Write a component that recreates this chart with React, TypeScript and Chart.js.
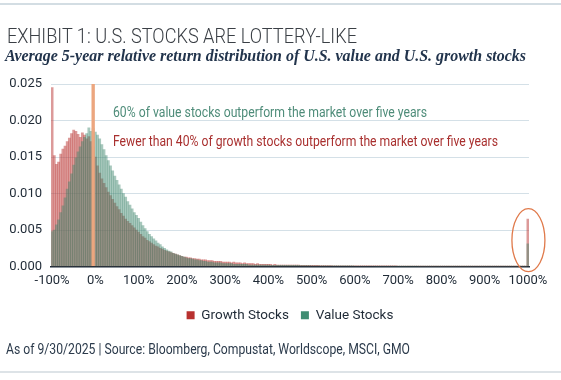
import React, { useEffect, useLayoutEffect, useRef } from "react";
import { Chart, registerables } from "chart.js";

Chart.register(...registerables);

// ---------- text ----------
const TITLE = "EXHIBIT 1: U.S. STOCKS ARE LOTTERY-LIKE";
const SUBTITLE = "Average 5-year relative return distribution of U.S. value and U.S. growth stocks";
const FOOTER = "As of 9/30/2025 | Source: Bloomberg, Compustat, Worldscope, MSCI, GMO";

// ---------- categories (5% return bins from -100% to 1000%) ----------
const BIN_START = -100;
const BIN_STEP = 5;
const BIN_COUNT = 221;
const categories: string[] = Array.from({ length: BIN_COUNT }, (_, i) => `${BIN_START + i * BIN_STEP}%`);
const tickLabels = ["-100%", "0%", "100%", "200%", "300%", "400%", "500%", "600%", "700%", "800%", "900%", "1000%"];
const yMin = 0;
const yMax = 0.025;
const yStep = 0.005;

// ---------- series ----------
const growthStocks = [
  0.0245, 0.0152, 0.0140, 0.0143, 0.0154, 0.0161, 0.0165, 0.0171, 0.0176, 0.0182,
  0.0187, 0.0185, 0.0181, 0.0177, 0.0183, 0.0180, 0.0175, 0.0178, 0.0171, 0.0164,
  0.0150, 0.0138, 0.0128, 0.0120, 0.0114, 0.0108, 0.0102, 0.0097, 0.0092, 0.0087,
  0.0082, 0.0078, 0.0073, 0.0069, 0.0065, 0.0062, 0.0059, 0.0056, 0.0053, 0.0050,
  0.0047, 0.0044, 0.0041, 0.0039, 0.0036, 0.0034, 0.0032, 0.0030, 0.0028, 0.0027,
  0.0025, 0.0024, 0.0022, 0.0021, 0.0020, 0.0019, 0.0018, 0.0017, 0.0016, 0.0015,
  0.0014, 0.0013, 0.0013, 0.0012, 0.0012, 0.0011, 0.0011, 0.0010, 0.0010, 0.0009,
  0.0009, 0.0009, 0.0008, 0.0008, 0.0008, 0.0007, 0.0007, 0.0007, 0.0007, 0.0006,
  0.0006, 0.0006, 0.0006, 0.0005, 0.0006, 0.0005, 0.0005, 0.0005, 0.0004, 0.0005,
  0.0004, 0.0004, 0.0004, 0.0004, 0.0003, 0.0004, 0.0003, 0.0003, 0.0003, 0.0003,
  0.0003, 0.0003, 0.0002, 0.0003, 0.0002, 0.0002, 0.0002, 0.0002, 0.0002, 0.0002,
  0.0002, 0.0002, 0.0002, 0.0002, 0.0002, 0.00015, 0.00015, 0.00015, 0.00015, 0.00015,
  0.00015, 0.00015, 0.00015, 0.00015, 0.00012, 0.00012, 0.00012, 0.00012, 0.00012, 0.00012,
  0.0001, 0.0001, 0.0001, 0.0001, 0.0001, 0.0001, 0.0001, 0.0001, 0.0001, 0.0001,
  0.0001, 0.0001, 0.0001, 0.0001, 0.0001, 0.00008, 0.00008, 0.00008, 0.00008, 0.00008,
  0.00008, 0.00008, 0.00008, 0.00008, 0.00008, 0.00008, 0.00008, 0.00008, 0.00008, 0.00008,
  0.00007, 0.00007, 0.00007, 0.00007, 0.00007, 0.00007, 0.00007, 0.00007, 0.00007, 0.00007,
  0.00006, 0.00006, 0.00006, 0.00006, 0.00006, 0.00006, 0.00006, 0.00006, 0.00006, 0.00006,
  0.00005, 0.00005, 0.00005, 0.00005, 0.00005, 0.00005, 0.00005, 0.00005, 0.00005, 0.00005,
  0.00005, 0.00005, 0.00005, 0.00005, 0.00005, 0.00005, 0.00005, 0.00005, 0.00005, 0.00005,
  0.00004, 0.00004, 0.00004, 0.00004, 0.00004, 0.00004, 0.00004, 0.00004, 0.00004, 0.00004,
  0.00004, 0.00004, 0.00004, 0.00004, 0.00004, 0.00004, 0.00004, 0.00004, 0.00004, 0.00004,
  0.0065,
];

const valueStocks = [
  0.0048, 0.0050, 0.0057, 0.0064, 0.0074, 0.0083, 0.0094, 0.0106, 0.0116, 0.0127,
  0.0139, 0.0149, 0.0157, 0.0164, 0.0171, 0.0177, 0.0182, 0.0190, 0.0185, 0.0189,
  0.0184, 0.0180, 0.0175, 0.0167, 0.0160, 0.0152, 0.0145, 0.0138, 0.0131, 0.0124,
  0.0118, 0.0112, 0.0106, 0.0100, 0.0095, 0.0089, 0.0084, 0.0079, 0.0074, 0.0070,
  0.0066, 0.0061, 0.0056, 0.0052, 0.0048, 0.0044, 0.0041, 0.0038, 0.0035, 0.0032,
  0.0030, 0.0027, 0.0025, 0.0023, 0.0021, 0.0020, 0.0018, 0.0017, 0.0016, 0.0015,
  0.0014, 0.0013, 0.0012, 0.0011, 0.0011, 0.0010, 0.0009, 0.0009, 0.0008, 0.0008,
  0.0007, 0.0007, 0.0006, 0.0006, 0.0006, 0.0005, 0.0005, 0.0005, 0.0005, 0.0004,
  0.0004, 0.0004, 0.0004, 0.0004, 0.0003, 0.0003, 0.0003, 0.0003, 0.0003, 0.0003,
  0.0003, 0.0002, 0.0002, 0.0002, 0.0002, 0.0002, 0.0002, 0.0002, 0.0002, 0.0002,
  0.0002, 0.00015, 0.00015, 0.00015, 0.00015, 0.00015, 0.00015, 0.00015, 0.00015, 0.00015,
  0.00015, 0.00015, 0.00015, 0.00015, 0.00015, 0.00012, 0.00012, 0.00012, 0.00012, 0.00012,
  0.0001, 0.0001, 0.0001, 0.0001, 0.0001, 0.0001, 0.0001, 0.0001, 0.0001, 0.0001,
  0.00008, 0.00008, 0.00008, 0.00008, 0.00008, 0.00008, 0.00008, 0.00008, 0.00008, 0.00008,
  0.00007, 0.00007, 0.00007, 0.00007, 0.00007, 0.00007, 0.00007, 0.00007, 0.00007, 0.00007,
  0.00006, 0.00006, 0.00006, 0.00006, 0.00006, 0.00006, 0.00006, 0.00006, 0.00006, 0.00006,
  0.00005, 0.00005, 0.00005, 0.00005, 0.00005, 0.00005, 0.00005, 0.00005, 0.00005, 0.00005,
  0.00004, 0.00004, 0.00004, 0.00004, 0.00004, 0.00004, 0.00004, 0.00004, 0.00004, 0.00004,
  0.00004, 0.00004, 0.00004, 0.00004, 0.00004, 0.00004, 0.00004, 0.00004, 0.00004, 0.00004,
  0.00003, 0.00003, 0.00003, 0.00003, 0.00003, 0.00003, 0.00003, 0.00003, 0.00003, 0.00003,
  0.00003, 0.00003, 0.00003, 0.00003, 0.00003, 0.00003, 0.00003, 0.00003, 0.00003, 0.00003,
  0.00003, 0.00003, 0.00003, 0.00003, 0.00003, 0.00003, 0.00003, 0.00003, 0.00003, 0.00003,
  0.0031,
];

// highlighted "market return" bar
const zeroMarkerCategory = "-5%";
const zeroMarkerValue = 0.025;

const seriesNames = ["Growth Stocks", "Value Stocks"];
const notes = [
  "60% of value stocks outperform the market over five years",
  "Fewer than 40% of growth stocks outperform the market over five years",
];

// ---------- styles ----------
const COLORS = {
  growthFill: "rgba(188, 62, 60, 0.52)",
  valueFill: "rgba(62, 132, 108, 0.45)",
  growthSolid: "#b8312f",
  valueSolid: "#3f8d72",
  marker: "#eca67f",
  grid: "#d4e0e7",
  axis: "#1d2b39",
  tick: "#1f2a36",
  noteValue: "#4e8c79",
  noteGrowth: "#a9302f",
  ellipse: "#e07a4b",
};
const NOTE_STYLE = [
  { color: COLORS.noteValue, dx: 62, yValue: 0.0205, width: 314 },
  { color: COLORS.noteGrowth, dx: 62, yValue: 0.0165, width: 385 },
];

function FitText({ text, width, style }: { text: string; width: number; style: React.CSSProperties }) {
  const ref = useRef<HTMLSpanElement>(null);
  useLayoutEffect(() => {
    const el = ref.current;
    if (!el) return;
    const apply = () => {
      el.style.transform = "none";
      const w = el.getBoundingClientRect().width;
      if (w > 0) el.style.transform = `scaleX(${width / w})`;
    };
    apply();
    if ((document as any).fonts?.ready) (document as any).fonts.ready.then(apply);
  }, [text, width]);
  return (
    <span
      ref={ref}
      style={{ position: "absolute", whiteSpace: "nowrap", transformOrigin: "0 0", display: "inline-block", ...style }}
    >
      {text}
    </span>
  );
}

const notesPlugin = {
  id: "notesPlugin",
  afterDraw(chart: any) {
    const { ctx, chartArea, scales } = chart;
    const xs = scales.x;
    const ys = scales.y;
    ctx.save();
    ctx.font = "400 14px Roboto";
    ctx.textBaseline = "alphabetic";
    ctx.textAlign = "left";
    notes.forEach((text, i) => {
      const s = NOTE_STYLE[i];
      const w = ctx.measureText(text).width;
      ctx.save();
      ctx.translate(chartArea.left + s.dx, ys.getPixelForValue(s.yValue));
      ctx.scale(s.width / w, 1);
      ctx.fillStyle = s.color;
      ctx.fillText(text, 0, 0);
      ctx.restore();
    });
    // ellipse around the >1000% bucket
    const cx = xs.getPixelForValue(categories.length - 1) + 0.5;
    const cy = ys.getPixelForValue(0.0036);
    ctx.beginPath();
    ctx.ellipse(cx, cy, 16.5, 31.5, 0, 0, Math.PI * 2);
    ctx.strokeStyle = COLORS.ellipse;
    ctx.lineWidth = 1.3;
    ctx.stroke();
    ctx.restore();
  },
};

function ChartCanvas() {
  const canvasRef = useRef<HTMLCanvasElement>(null);
  useEffect(() => {
    const canvas = canvasRef.current;
    if (!canvas) return;
    const markerData = categories.map((c) => (c === zeroMarkerCategory ? zeroMarkerValue : null));
    const chart = new Chart(canvas, {
      type: "bar",
      data: {
        labels: categories,
        datasets: [
          {
            label: "Market",
            data: markerData,
            backgroundColor: COLORS.marker,
            order: 0,
            grouped: false,
            barPercentage: 1.55,
            categoryPercentage: 1,
          } as any,
          {
            label: seriesNames[1],
            data: valueStocks,
            backgroundColor: COLORS.valueFill,
            order: 1,
            grouped: false,
            barPercentage: 1,
            categoryPercentage: 1,
          },
          {
            label: seriesNames[0],
            data: growthStocks,
            backgroundColor: COLORS.growthFill,
            order: 2,
            grouped: false,
            barPercentage: 1,
            categoryPercentage: 1,
          },
        ],
      },
      options: {
        responsive: false,
        animation: false,
        layout: { padding: { top: 84, left: 0, right: 32, bottom: 48 } },
        plugins: {
          tooltip: { enabled: false },
          legend: {
            position: "bottom",
            fullSize: false,
            labels: {
              font: { family: "Roboto", size: 13.5 },
              color: COLORS.tick,
              boxWidth: 8,
              boxHeight: 8,
              padding: 12,
              generateLabels: () => [
                { text: seriesNames[0], fillStyle: COLORS.growthSolid, strokeStyle: COLORS.growthSolid, lineWidth: 0, hidden: false, datasetIndex: 2, fontColor: COLORS.tick },
                { text: seriesNames[1], fillStyle: COLORS.valueSolid, strokeStyle: COLORS.valueSolid, lineWidth: 0, hidden: false, datasetIndex: 1, fontColor: COLORS.tick },
              ],
            },
          },
        },
        scales: {
          x: {
            grid: { display: false, drawTicks: false },
            border: { display: true, color: COLORS.axis, width: 1.5 },
            ticks: {
              autoSkip: false,
              maxRotation: 0,
              minRotation: 0,
              padding: 6,
              color: COLORS.tick,
              font: { family: "Roboto", size: 13 },
              callback: (_v: any, i: number) => (tickLabels.includes(categories[i]) ? categories[i] : ""),
            },
            afterFit: (s: any) => {
              s.height = 30;
            },
          },
          y: {
            min: yMin,
            max: yMax,
            grid: { color: COLORS.grid, drawTicks: false, lineWidth: 1 },
            border: { display: false },
            ticks: {
              stepSize: yStep,
              padding: 9,
              color: COLORS.tick,
              font: { family: "Roboto", size: 13 },
              callback: (v: any) => Number(v).toFixed(3),
            },
            afterFit: (s: any) => {
              s.width = 51;
            },
          },
        },
      },
      plugins: [notesPlugin],
    });
    return () => chart.destroy();
  }, []);
  return <canvas ref={canvasRef} width={561} height={380} style={{ position: "absolute", left: 0, top: 0, display: "block" }} />;
}

export default function App() {
  return (
    <div style={{ position: "absolute", left: 0, top: 0, width: 561, height: 380, background: "#fff", overflow: "hidden" }}>
      <div style={{ position: "absolute", left: 0, top: 3, width: 561, height: 2, background: "#d3dde3" }} />
      <ChartCanvas />
      <FitText
        text={TITLE}
        width={350}
        style={{ left: 7, top: 27, fontFamily: "Roboto", fontWeight: 300, fontSize: 19.5, lineHeight: "19px", color: "#3a3f45" }}
      />
      <FitText
        text={SUBTITLE}
        width={521}
        style={{ left: 5, top: 47, fontFamily: "'Liberation Serif'", fontWeight: 700, fontStyle: "italic", fontSize: 16.5, lineHeight: "17px", color: "#22344c" }}
      />
      <FitText
        text={FOOTER}
        width={404}
        style={{ left: 6, top: 341, fontFamily: "Roboto", fontSize: 14, lineHeight: "16px", color: "#2b3a4b" }}
      />
      <div style={{ position: "absolute", left: 0, top: 371, width: 561, height: 2, background: "#dde3e7" }} />
    </div>
  );
}
